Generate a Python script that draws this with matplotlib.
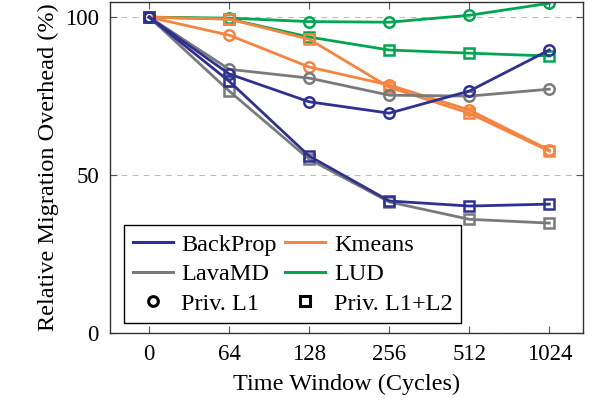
import matplotlib
matplotlib.use('Agg')
import matplotlib.pyplot as plt
from matplotlib.lines import Line2D

windows = ['0', '64', '128', '256', '512', '1024']

backprop_l1 = [100, 82.0, 73.2, 69.6, 76.6, 89.6]
backprop_l12 = [100, 79.7, 56.0, 41.8, 40.2, 40.8]
lavamd_l1 = [100, 83.5, 80.7, 75.3, 75.0, 77.2]
lavamd_l12 = [100, 76.6, 55.0, 41.5, 36.0, 34.8]
kmeans_l1 = [100, 94.3, 84.2, 78.5, 70.6, 57.9]
kmeans_l12 = [100, 99.4, 93.0, 77.8, 69.6, 57.6]
lud_l1 = [100, 99.7, 98.6, 98.4, 100.6, 104.4]
lud_l12 = [100, 99.4, 93.7, 89.6, 88.6, 87.7]

colors = {'BackProp': '#2e3192', 'Kmeans': '#f7843e', 'LavaMD': '#7a7a7a', 'LUD': '#00a651'}

plt.rcParams['font.family'] = ['Liberation Serif', 'DejaVu Serif']
plt.rcParams['font.size'] = 17.5

fig = plt.figure(figsize=(5.93, 4.0), dpi=100)
ax = fig.add_axes([0.1855, 0.1675, 0.7975, 0.8275])

x = list(range(len(windows)))
series = [
    ('LUD', lud_l1, lud_l12),
    ('Kmeans', kmeans_l1, kmeans_l12),
    ('LavaMD', lavamd_l1, lavamd_l12),
    ('BackProp', backprop_l1, backprop_l12),
]
for name, l1, l12 in series:
    c = colors[name]
    ax.plot(x, l12, color=c, lw=2.0, marker='s', ms=7.5, mfc='none', mew=1.8)
    ax.plot(x, l1, color=c, lw=2.0, marker='o', ms=7.5, mfc='none', mew=1.8)

ax.set_xlim(-0.49, 5.42)
ax.set_ylim(0, 104.8)
ax.set_xticks(x)
ax.set_xticklabels(windows)
ax.set_yticks([0, 50, 100])
ax.tick_params(direction='in', top=True, right=True, length=5, width=0.8, pad=8,
               color='#555555', labelsize=16.5)
ax.yaxis.grid(True, ls=(0, (5, 5)), color='#bbbbbb', lw=0.8)
ax.set_axisbelow(True)
for s in ax.spines.values():
    s.set_linewidth(1.0)
    s.set_color('#333333')

ax.set_xlabel('Time Window (Cycles)', labelpad=6)
ax.set_ylabel('Relative Migration Overhead (%)', labelpad=4)

handles = [
    Line2D([], [], color=colors['BackProp'], lw=2.2),
    Line2D([], [], color=colors['LavaMD'], lw=2.2),
    Line2D([], [], color='black', marker='o', ls='none', ms=7, mfc='none', mew=2.2),
    Line2D([], [], color=colors['Kmeans'], lw=2.2),
    Line2D([], [], color=colors['LUD'], lw=2.2),
    Line2D([], [], color='black', marker='s', ls='none', ms=7, mfc='none', mew=2.2),
]
labels = ['BackProp', 'LavaMD', 'Priv. L1', 'Kmeans', 'LUD', 'Priv. L1+L2']
leg = ax.legend(handles, labels, ncol=2, loc='lower left', bbox_to_anchor=(0.03, 0.03),
                borderaxespad=0, fancybox=False, edgecolor='black', framealpha=1,
                handlelength=1.65, columnspacing=0.35, labelspacing=0.3, borderpad=0.35,
                handletextpad=0.35)
leg.get_frame().set_linewidth(1.0)

fig.savefig('out.png', dpi=100)
